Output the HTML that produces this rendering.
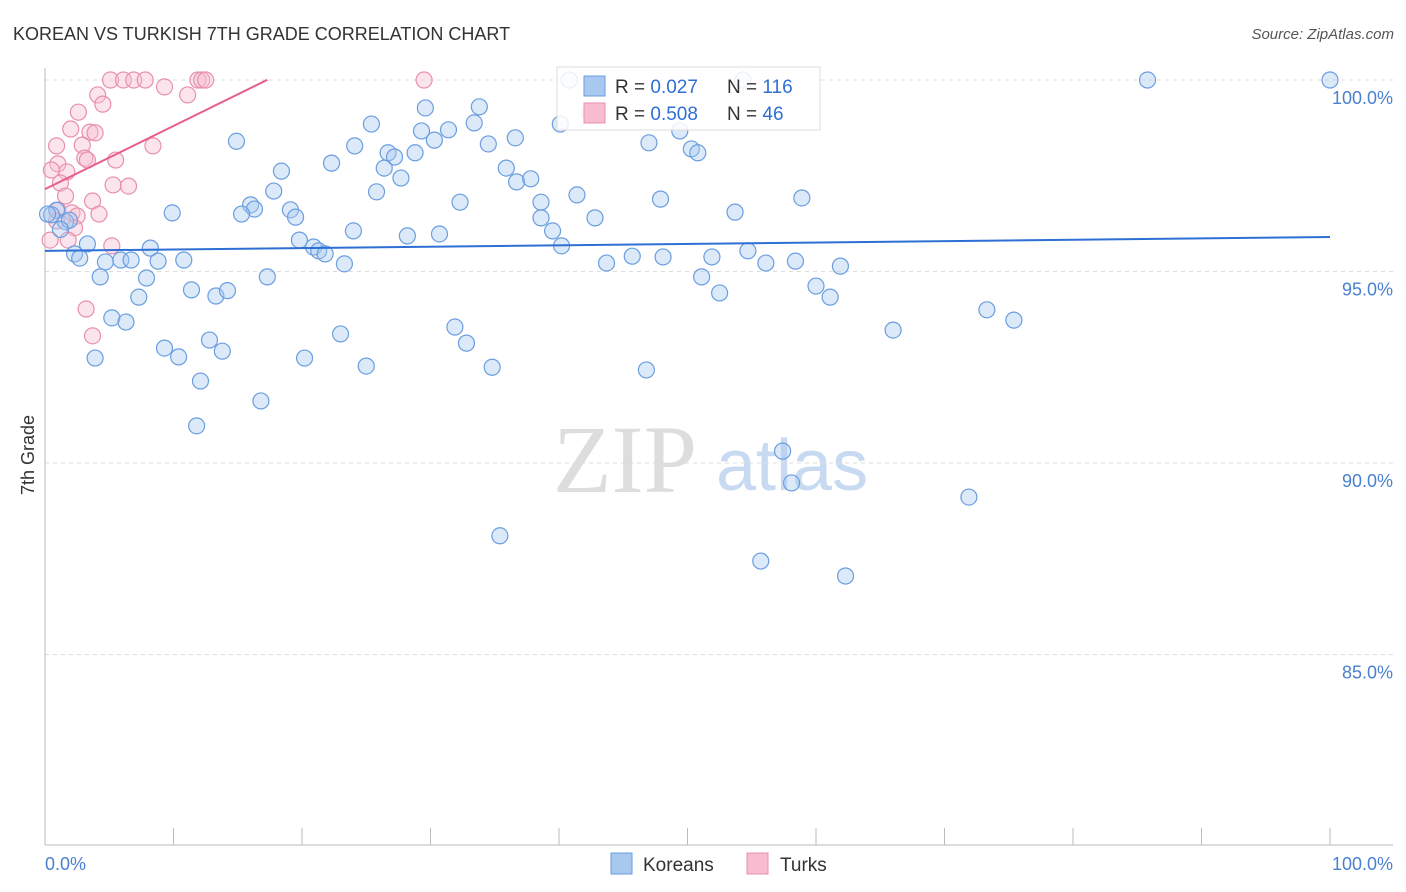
<!DOCTYPE html>
<html><head><meta charset="utf-8"><style>
body{margin:0;background:#fff;font-family:"Liberation Sans",sans-serif;}
svg{display:block}
</style></head><body>
<svg id="chart" width="1406" height="892">
<text x="13" y="40" font-size="18" fill="#333">KOREAN VS TURKISH 7TH GRADE CORRELATION CHART</text>
<text x="1394" y="39" font-size="15" fill="#555" font-style="italic" text-anchor="end">Source: ZipAtlas.com</text>
<text transform="translate(34,455) rotate(-90)" font-size="18" fill="#333" text-anchor="middle">7th Grade</text>
<g>
<text x="553" y="492" font-size="96" font-family="Liberation Serif,serif" fill="#ddd">ZIP</text>
<text x="716" y="490" font-size="72" fill="#c8daf2">atlas</text>
</g>
<g id="grid"></g><g id="axes"></g><g id="marks"></g>
<g>
<rect x="557" y="67" width="263" height="63" fill="#fff" fill-opacity="0.85" stroke="#ddd"/>
<rect x="584" y="76" width="21" height="20" fill="#a8c8f0" stroke="#6a9ee0"/>
<rect x="584" y="103" width="21" height="20" fill="#f7bcd0" stroke="#e890ac"/>
<text x="615" y="93" font-size="19" fill="#333">R = <tspan fill="#2d6fd4">0.027</tspan><tspan x="727">N = </tspan><tspan fill="#2d6fd4">116</tspan></text>
<text x="615" y="120" font-size="19" fill="#333">R = <tspan fill="#2d6fd4">0.508</tspan><tspan x="727">N = </tspan><tspan fill="#2d6fd4"> 46</tspan></text>
</g>
<g>
<rect x="611" y="853" width="21" height="21" fill="#a8c8f0" stroke="#6a9ee0"/>
<text x="643" y="871" font-size="19" fill="#333">Koreans</text>
<rect x="747" y="853" width="21" height="21" fill="#f7bcd0" stroke="#e890ac"/>
<text x="780" y="871" font-size="19" fill="#333">Turks</text>
</g>
</svg>
<script>
const yTicks=[100,95,90,85];
const xTickLabels=["0.0%","100.0%"];
const koreanX=[85.8,100,40.8,54.3,14.9,25.4,29.6,33.8,29.3,31.4,33.4,30.3,36.6,40.1,47.0,49.4,50.3,50.8,24.1,22.3,18.4,17.8,26.7,27.2,28.8,26.4,27.7,25.8,34.5,35.9,36.7,37.8,41.4,32.3,38.6,38.6,42.8,47.9,53.7,58.9,16.0,16.3,15.3,19.1,19.5,9.9,24.0,19.8,20.9,21.3,21.8,28.2,30.7,39.5,40.2,23.3,8.2,8.8,10.8,4.7,5.9,6.7,3.3,2.3,2.7,4.3,7.9,17.3,11.4,13.3,14.2,7.3,5.2,6.3,43.7,45.7,48.1,51.9,54.7,56.1,58.4,61.9,51.1,52.5,60.0,61.1,66.0,73.3,75.4,9.3,10.4,12.8,13.8,3.9,20.2,23.0,25.0,31.9,32.8,34.8,46.8,12.1,16.8,11.8,57.4,58.1,71.9,35.4,55.7,62.3,0.9,0.5,1.6,1.9,1.2,0.2];
const koreanY=[100,100,100,100,98.4,98.85,99.27,99.3,98.67,98.7,98.88,98.43,98.49,98.85,98.36,98.67,98.2,98.1,98.28,97.83,97.62,97.1,98.1,97.99,98.1,97.7,97.44,97.08,98.33,97.7,97.34,97.42,97.0,96.81,96.81,96.4,96.4,96.89,96.55,96.92,96.74,96.63,96.5,96.61,96.42,96.53,96.06,95.82,95.64,95.54,95.46,95.93,95.98,96.06,95.67,95.2,95.61,95.27,95.3,95.25,95.3,95.3,95.72,95.46,95.35,94.86,94.83,94.86,94.52,94.36,94.5,94.33,93.79,93.68,95.22,95.4,95.38,95.38,95.54,95.22,95.27,95.14,94.86,94.44,94.62,94.33,93.47,94.0,93.73,93.0,92.77,93.21,92.92,92.74,92.74,93.37,92.53,93.55,93.13,92.5,92.43,92.14,91.62,90.97,90.31,89.48,89.11,88.1,87.44,87.05,96.6,96.48,96.3,96.34,96.1,96.5];
const turkX=[5.1,6.1,6.9,7.8,11.9,12.2,12.5,29.5,9.3,11.1,4.1,4.5,2.6,2.0,3.5,3.9,0.9,2.9,8.4,3.1,3.3,1.0,5.5,0.5,1.7,1.2,5.3,6.5,1.6,3.7,1.0,2.1,4.2,2.5,0.9,2.3,1.8,0.4,5.2,3.2,3.7,42.4];
const turkY=[100,100,100,100,100,100,100,100,99.82,99.61,99.61,99.37,99.16,98.72,98.64,98.62,98.28,98.3,98.28,97.96,97.91,97.81,97.91,97.65,97.6,97.31,97.26,97.23,96.97,96.84,96.6,96.53,96.5,96.45,96.32,96.14,95.82,95.82,95.67,94.02,93.32,99.14];
const koreanFit=[95.54,0.0036]; // intercept, slope
const turkFit=[97.15,0.165];
const turkFitEnd=[17.3];

const NS="http://www.w3.org/2000/svg";
const X=v=>45+v*12.85, Y=v=>80+(100-v)*38.3;
function mk(tag,attrs,parent){const e=document.createElementNS(NS,tag);for(const k in attrs)e.setAttribute(k,attrs[k]);parent.appendChild(e);return e;}
const grid=document.getElementById('grid'),axes=document.getElementById('axes'),marks=document.getElementById('marks');
yTicks.forEach(t=>{
 const l=mk('line',{x1:45,x2:1393,y1:Y(t),y2:Y(t),stroke:'#dcdcdc','stroke-dasharray':'4,4'},grid);
 
 
 const tx=mk('text',{x:1393,y:Y(t)+24,'font-size':18,fill:'#4a80d0','text-anchor':'end'},axes);
 tx.textContent=t.toFixed(1)+'%';
 
 
});
let a=mk('line',{x1:45,x2:45,y1:68,y2:845,stroke:'#bbb'},axes);


a=mk('line',{x1:45,x2:1393,y1:845,y2:845,stroke:'#bbb'},axes);


for(let i=0;i<=10;i++){const t=mk('line',{x1:X(i*10),x2:X(i*10),y1:828,y2:845,stroke:'#bbb'},axes);
 
 }
let xl=mk('text',{x:45,y:870,'font-size':18,fill:'#4a80d0'},axes);xl.textContent=xTickLabels[0];


xl=mk('text',{x:1393,y:870,'font-size':18,fill:'#4a80d0','text-anchor':'end'},axes);xl.textContent=xTickLabels[1];


turkX.forEach((v,i)=>{const c=mk('circle',{cx:X(v),cy:Y(turkY[i]),r:8,fill:'#f7bcd0','fill-opacity':0.4,stroke:'#e890ac','stroke-width':1.2},marks);
 
 });
koreanX.forEach((v,i)=>{const c=mk('circle',{cx:X(v),cy:Y(koreanY[i]),r:8,fill:'#a8c8f0','fill-opacity':0.4,stroke:'#6a9ee0','stroke-width':1.2},marks);
 
 });
let r=mk('line',{x1:X(0),y1:Y(koreanFit[0]),x2:X(100),y2:Y(koreanFit[0]+koreanFit[1]*100),stroke:'#2d6fd4','stroke-width':2},marks);


r=mk('line',{x1:X(0),y1:Y(turkFit[0]),x2:X(turkFitEnd[0]),y2:Y(turkFit[0]+turkFit[1]*turkFitEnd[0]),stroke:'#e8608a','stroke-width':2},marks);


</script>
</body></html>
